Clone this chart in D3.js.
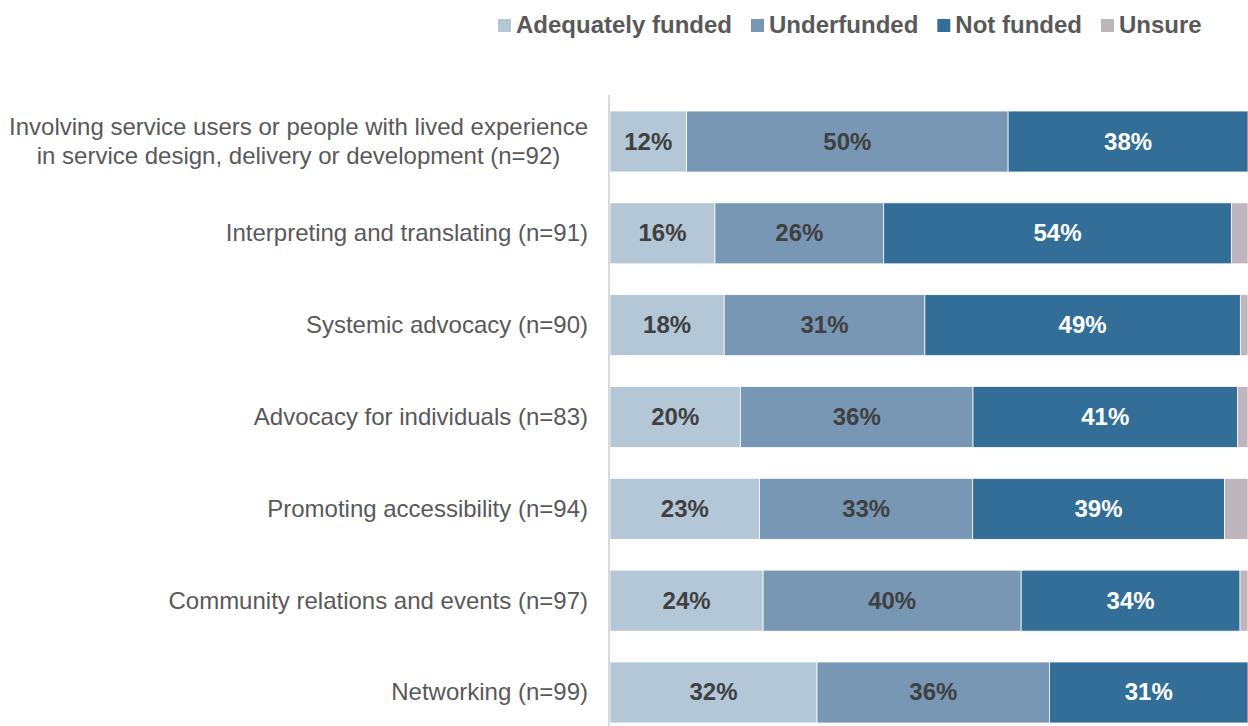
<!DOCTYPE html>
<html>
<head>
<meta charset="utf-8">
<script src="https://cdn.jsdelivr.net/npm/d3@7"></script>
<style>
  body { margin: 0; background: #fff; }
  svg { display: block; font-family: Arial, "Liberation Sans", sans-serif; }
</style>
</head>
<body>
<div id="container"></div>
<script>
// data (percent of respondents)
const categories = [
  "Involving service users or people with lived experience\nin service design, delivery or development (n=92)",
  "Interpreting and translating (n=91)",
  "Systemic advocacy (n=90)",
  "Advocacy for individuals (n=83)",
  "Promoting accessibility (n=94)",
  "Community relations and events (n=97)",
  "Networking (n=99)"
];
const seriesNames = ["Adequately funded", "Underfunded", "Not funded", "Unsure"];
const adequate    = [12.0, 16.45, 17.9, 20.45, 23.45, 24.0, 32.45];
const underfunded = [50.4, 26.45, 31.45, 36.45, 33.4, 40.45, 36.45];
const notFunded   = [37.6, 54.49, 49.45, 41.45, 39.45, 34.3, 31.1];
const unsure      = [0.0, 2.61, 1.2, 1.65, 3.7, 1.25, 0.0];

const colors = ["#b4c7d7", "#7897b4", "#336e99", "#bfb5bd"];
const labelColors = ["#404040", "#404040", "#ffffff", null];

const width = 1248, height = 726;

const rows = categories.map((c, i) => ({
  cat: c,
  "Adequately funded": adequate[i],
  "Underfunded": underfunded[i],
  "Not funded": notFunded[i],
  "Unsure": unsure[i]
}));

const svg = d3.select("#container").append("svg")
  .attr("width", width)
  .attr("height", height);

const x = d3.scaleLinear().domain([0, 100]).range([610, 1248]);
const y = d3.scaleBand().domain(categories).range([95.6, 738.4])
  .paddingInner(0.336).paddingOuter(0.168);

const stacked = d3.stack().keys(seriesNames)(rows);

// bars
const layers = svg.append("g").selectAll("g")
  .data(stacked)
  .join("g")
  .attr("fill", (d, i) => colors[i]);

layers.selectAll("rect")
  .data(d => d)
  .join("rect")
  .attr("x", d => x(d[0]))
  .attr("y", d => y(d.data.cat))
  .attr("width", d => Math.max(0, x(d[1]) - x(d[0])))
  .attr("height", y.bandwidth())
  .attr("stroke", "#ffffff")
  .attr("stroke-width", 0.75);

// data labels (not for Unsure)
stacked.forEach((layer, si) => {
  if (!labelColors[si]) return;
  svg.append("g").selectAll("text")
    .data(layer)
    .join("text")
    .attr("x", d => (x(d[0]) + x(d[1])) / 2)
    .attr("y", d => y(d.data.cat) + y.bandwidth() / 2 + 8)
    .attr("text-anchor", "middle")
    .attr("font-size", "24px")
    .attr("font-weight", "bold")
    .attr("fill", labelColors[si])
    .text(d => Math.round(d[1] - d[0]) + "%");
});

// category axis line
svg.append("line")
  .attr("x1", 609).attr("x2", 609)
  .attr("y1", 95).attr("y2", 738)
  .attr("stroke", "#d9d9d9")
  .attr("stroke-width", 2);

// category labels, multi-line ones centred within their block
const catG = svg.append("g");
categories.forEach(c => {
  const lines = c.split("\n");
  const cy = y(c) + y.bandwidth() / 2;
  const lh = 29;
  const t = catG.append("text")
    .attr("font-size", "24px")
    .attr("fill", "#595959");
  lines.forEach((ln, j) => {
    t.append("tspan")
      .attr("y", cy + 8 + (j - (lines.length - 1) / 2) * lh)
      .text(ln);
  });
  const spans = t.selectAll("tspan").nodes();
  const w = d3.max(spans, s => s.getComputedTextLength());
  spans.forEach(s => {
    d3.select(s)
      .attr("x", 588 - w / 2)
      .attr("text-anchor", "middle");
  });
});

// legend
const legend = svg.append("g");
let lx = 498;
seriesNames.forEach((name, i) => {
  legend.append("rect")
    .attr("x", lx).attr("y", 19)
    .attr("width", 13).attr("height", 13)
    .attr("fill", colors[i]);
  const t = legend.append("text")
    .attr("x", lx + 18).attr("y", 33)
    .attr("font-size", "24px")
    .attr("font-weight", "bold")
    .attr("fill", "#595959")
    .text(name);
  lx += 18 + t.node().getComputedTextLength() + 19;
});
</script>
</body>
</html>
